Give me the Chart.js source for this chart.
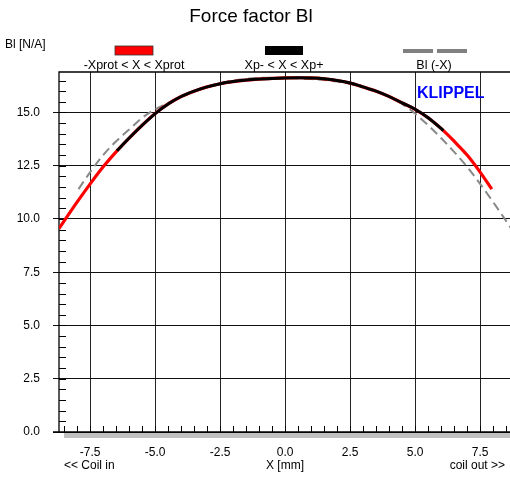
<!DOCTYPE html>
<html>
<head>
<meta charset="utf-8">
<script src="https://cdn.jsdelivr.net/npm/chart.js@4"></script>
<style>
  html, body { margin: 0; padding: 0; background: #fff; }
  #wrap { width: 510px; height: 478px; }
</style>
</head>
<body>
<div id="wrap"><canvas id="blChart" width="510" height="478"></canvas></div>
<script>
// displacement X [mm] and measured force factor Bl(X) [N/A]
const xPos = [-8.7, -8.0, -7.5, -7.0, -6.47, -6.0, -5.5, -5.0, -4.5, -4.0, -3.5, -3.0, -2.5, -2.0, -1.5, -1.0, -0.5,
              0.0, 0.5, 1.0, 1.5, 2.0, 2.5, 3.0, 3.5, 4.0, 4.5, 5.0, 5.5, 6.09, 6.5, 7.0, 7.5, 7.95];
const blValues = [9.55, 10.8, 11.65, 12.45, 13.2, 13.8, 14.4, 14.95, 15.4, 15.75, 16.0, 16.2, 16.35, 16.45, 16.52, 16.57, 16.6,
                  16.62, 16.63, 16.62, 16.58, 16.5, 16.38, 16.2, 16.0, 15.75, 15.45, 15.15, 14.75, 14.15, 13.65, 13.0, 12.2, 11.4];
// Xp- .. Xp+ range (black part)
const xpRange = [-6.47, 6.09];
// mirrored curve Bl(-X)
const xMirror = [-7.95, -7.5, -7.0, -6.5, -6.0, -5.5, -5.0, -4.5, -4.0, -3.5, -3.0, -2.5, -2.0, -1.5, -1.0, -0.5, 0.0,
                 0.5, 1.0, 1.5, 2.0, 2.5, 3.0, 3.5, 4.0, 4.5, 5.0, 5.5, 6.0, 6.5, 7.0, 7.5, 8.0, 8.7];
const blMirror = [11.4, 12.2, 13.0, 13.65, 14.2, 14.75, 15.15, 15.45, 15.75, 16.0, 16.2, 16.38, 16.5, 16.58, 16.62, 16.63, 16.62,
                  16.6, 16.57, 16.52, 16.45, 16.35, 16.2, 16.0, 15.75, 15.4, 14.95, 14.4, 13.8, 13.15, 12.45, 11.65, 10.8, 9.55];
const xTicks = [-7.5, -5.0, -2.5, 0.0, 2.5, 5.0, 7.5];
const yTicks = [0.0, 2.5, 5.0, 7.5, 10.0, 12.5, 15.0];

const FONT = 'Arial, "Liberation Sans", sans-serif';

const full = xPos.map((x, i) => ({ x: x, y: blValues[i] }));
const inner = full.filter(p => p.x >= xpRange[0] - 0.001 && p.x <= xpRange[1] + 0.001);
const mirror = xMirror.map((x, i) => ({ x: x, y: blMirror[i] }));

const decor = {
    id: 'decor',
    beforeDatasetsDraw(chart) {
        const ctx = chart.ctx;
        const xs = chart.scales.x, ys = chart.scales.y;
        const a = chart.chartArea;
        ctx.save();
        // shadow under x axis
        ctx.fillStyle = '#c0c0c0';
        ctx.fillRect(a.left + 5, a.bottom + 1, a.right - a.left - 5, 5);
        // minor ticks
        ctx.strokeStyle = '#000';
        ctx.lineWidth = 1;
        ctx.beginPath();
        for (let v = -8.5; v <= 8.6; v += 0.5) {
            const px = Math.round(xs.getPixelForValue(v)) + 0.5;
            ctx.moveTo(px, a.bottom);
            ctx.lineTo(px, a.bottom - 6);
        }
        for (let v = 0.5; v < 16.9; v += 0.5) {
            const py = Math.round(ys.getPixelForValue(v)) + 0.5;
            ctx.moveTo(a.left, py);
            ctx.lineTo(a.left + 7, py);
        }
        ctx.stroke();
        // frame top and left / bottom
        ctx.lineWidth = 1.3;
        ctx.beginPath();
        ctx.moveTo(a.left, a.bottom);
        ctx.lineTo(a.left, a.top);
        ctx.lineTo(a.right, a.top);
        ctx.moveTo(a.left - 6, a.bottom);
        ctx.lineTo(a.right, a.bottom);
        ctx.stroke();
        ctx.restore();
    },
    afterDraw(chart) {
        const ctx = chart.ctx;
        ctx.save();
        ctx.fillStyle = '#000';
        ctx.textBaseline = 'middle';
        ctx.textAlign = 'center';
        ctx.font = '19px ' + FONT;
        ctx.fillText('Force factor Bl', 251, 17);
        ctx.font = '12px ' + FONT;
        ctx.textAlign = 'left';
        ctx.fillText('Bl [N/A]', 5, 45);
        // legend
        ctx.font = '12.5px ' + FONT;
        ctx.textAlign = 'center';
        ctx.fillText('-Xprot < X < Xprot', 134, 66);
        ctx.fillText('Xp- < X < Xp+', 284, 66);
        ctx.fillText('Bl (-X)', 434, 66);
        ctx.fillStyle = '#ff0000';
        ctx.fillRect(115, 46, 38, 9);
        ctx.strokeStyle = '#333';
        ctx.lineWidth = 0.8;
        ctx.strokeRect(115, 46, 38, 9);
        ctx.fillStyle = '#000';
        ctx.fillRect(265, 46, 38, 9);
        ctx.fillStyle = '#808080';
        ctx.fillRect(403, 49, 30, 4);
        ctx.fillRect(437, 49, 30, 4);
        // axis captions
        ctx.font = '12px ' + FONT;
        ctx.fillStyle = '#000';
        ctx.textAlign = 'left';
        ctx.fillText('<< Coil in', 64, 466);
        ctx.textAlign = 'center';
        ctx.fillText('X [mm]', 285, 466);
        ctx.textAlign = 'right';
        ctx.fillText('coil out >>', 505, 466);
        // brand
        ctx.fillStyle = '#0000ff';
        ctx.textAlign = 'left';
        ctx.font = 'bold 16px ' + FONT;
        ctx.fillText('KLIPPEL', 417, 94);
        ctx.restore();
    }
};

new Chart(document.getElementById('blChart'), {
    type: 'scatter',
    data: {
        datasets: [{
            label: 'Bl (-X)',
            data: mirror,
            showLine: true,
            borderColor: '#888888',
            borderWidth: 2,
            borderDash: [9, 5],
            pointRadius: 0,
            cubicInterpolationMode: 'monotone',
            order: 3
        }, {
            label: '-Xprot < X < Xprot',
            data: full,
            showLine: true,
            borderColor: '#ff0000',
            borderWidth: 3.2,
            pointRadius: 0,
            cubicInterpolationMode: 'monotone',
            order: 2
        }, {
            label: 'Xp- < X < Xp+',
            data: inner,
            showLine: true,
            borderColor: '#000000',
            borderWidth: 3,
            pointRadius: 0,
            cubicInterpolationMode: 'monotone',
            order: 1
        }]
    },
    options: {
        responsive: false,
        animation: false,
        devicePixelRatio: 1,
        layout: { padding: { top: 72, left: 0, right: 0, bottom: 0 } },
        plugins: {
            legend: { display: false },
            title: { display: false },
            tooltip: { enabled: false }
        },
        scales: {
            x: {
                type: 'linear',
                min: -8.7,
                max: 8.65,
                afterBuildTicks(scale) { scale.ticks = xTicks.map(v => ({ value: v })); },
                afterFit(scale) { scale.height = 46; },
                border: { display: false },
                grid: { color: '#222', lineWidth: 1, tickLength: 0, drawTicks: false },
                ticks: {
                    padding: 13,
                    color: '#000',
                    font: { family: FONT, size: 12 },
                    maxRotation: 0,
                    callback: v => Number(v).toFixed(1)
                }
            },
            y: {
                type: 'linear',
                min: 0,
                max: 16.9,
                afterBuildTicks(scale) { scale.ticks = yTicks.map(v => ({ value: v })); },
                afterFit(scale) { scale.width = 59; },
                border: { display: false },
                grid: { color: '#111', lineWidth: 1, tickLength: 6 },
                ticks: {
                    padding: 13,
                    color: '#000',
                    font: { family: FONT, size: 12 },
                    callback: v => Number(v).toFixed(1)
                }
            }
        }
    },
    plugins: [decor]
});
</script>
</body>
</html>
